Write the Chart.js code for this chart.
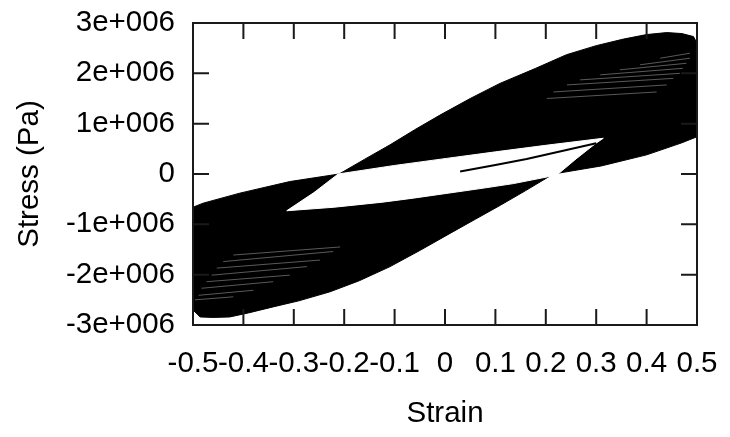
<!DOCTYPE html>
<html>
<head>
<meta charset="utf-8">
<script src="https://cdn.jsdelivr.net/npm/chart.js@4.4.1/dist/chart.umd.min.js"></script>
<style>
  body { margin: 0; background: #fff; }
</style>
</head>
<body>
<canvas id="hysteresisChart" width="730" height="437"></canvas>
<script>
// outline of the dark area made by all the loops (strain, stress in Pa)
const outerStrain = [-0.21, -0.16, -0.109, -0.06, -0.01, 0.05, 0.109, 0.18, 0.241, 0.30, 0.354, 0.40, 0.44, 0.47, 0.493, 0.50,
    0.50, 0.47, 0.40, 0.31, 0.215, 0.16, 0.11, 0.06, 0.01, -0.05, -0.109, -0.17, -0.228, -0.29, -0.341, -0.39, -0.427, -0.46, -0.486, -0.50,
    -0.50, -0.48, -0.407, -0.308, -0.21];
const outerStress = [0, 0.29e6, 0.58e6, 0.88e6, 1.17e6, 1.50e6, 1.80e6, 2.10e6, 2.37e6, 2.55e6, 2.68e6, 2.77e6, 2.81e6, 2.79e6, 2.73e6, 2.60e6,
    0.74e6, 0.62e6, 0.38e6, 0.16e6, 0, -0.33e6, -0.62e6, -0.90e6, -1.18e6, -1.52e6, -1.84e6, -2.12e6, -2.34e6, -2.52e6, -2.64e6, -2.76e6, -2.84e6, -2.85e6, -2.84e6, -2.70e6,
    -0.66e6, -0.58e6, -0.38e6, -0.15e6, 0];

// white gap in the middle
const holeStrain = [-0.212, -0.10, 0.003, 0.10, 0.20, 0.314, 0.298, 0.26, 0.222, 0.136, 0.077, -0.063, -0.124, -0.22, -0.314, -0.26, -0.212];
const holeStress = [0, 0.17e6, 0.31e6, 0.44e6, 0.57e6, 0.71e6, 0.60e6, 0.30e6, -0.02e6, -0.19e6, -0.28e6, -0.48e6, -0.56e6, -0.66e6, -0.73e6, -0.37e6, 0];

// first loading branch
const firstStrain = [0.03, 0.10, 0.162, 0.23, 0.30];
const firstStress = [0.05e6, 0.18e6, 0.30e6, 0.45e6, 0.61e6];

// light gaps between loops near the corners [x1, y1, x2, y2]
const streaksTop = [
    [0.427, 2.30e6, 0.486, 2.40e6], [0.387, 2.17e6, 0.486, 2.30e6], [0.347, 2.07e6, 0.479, 2.20e6], [0.308, 1.97e6, 0.472, 2.10e6],
    [0.268, 1.87e6, 0.466, 2.00e6], [0.242, 1.77e6, 0.453, 1.90e6], [0.215, 1.63e6, 0.440, 1.77e6], [0.202, 1.50e6, 0.420, 1.63e6]
];
const streaksBottom = [
    [-0.420, -1.61e6, -0.208, -1.45e6], [-0.440, -1.74e6, -0.222, -1.54e6], [-0.453, -1.87e6, -0.248, -1.71e6], [-0.463, -2.01e6, -0.274, -1.84e6],
    [-0.473, -2.14e6, -0.308, -2.01e6], [-0.483, -2.27e6, -0.341, -2.14e6], [-0.489, -2.41e6, -0.380, -2.31e6], [-0.496, -2.50e6, -0.420, -2.44e6]
];

const xTickLabels = ['-0.5', '-0.4', '-0.3', '-0.2', '-0.1', '0', '0.1', '0.2', '0.3', '0.4', '0.5'];
const yTickLabels = ['-3e+006', '-2e+006', '-1e+006', '0', '1e+006', '2e+006', '3e+006'];

const toPoints = (xs, ys) => xs.map((x, i) => ({x: x, y: ys[i]}));

const streakSets = streaksTop.concat(streaksBottom).map(s => ({
    data: [{x: s[0], y: s[1]}, {x: s[2], y: s[3]}],
    showLine: true,
    borderColor: 'rgba(255,255,255,0.35)',
    borderWidth: 1,
    pointRadius: 0,
    order: 1
}));

const fontFamily = "'Liberation Sans', Arial, sans-serif";

// frame with inward ticks on all four sides, like the original plot
const framePlugin = {
    id: 'frame',
    afterDatasetsDraw(chart) {
        const ctx = chart.ctx;
        const a = chart.chartArea;
        const xs = chart.scales.x;
        const ys = chart.scales.y;
        const len = 16;
        ctx.save();
        ctx.strokeStyle = '#1a1a1a';
        ctx.lineWidth = 2;
        ctx.beginPath();
        xs.ticks.forEach(t => {
            const px = xs.getPixelForValue(t.value);
            ctx.moveTo(px, a.bottom); ctx.lineTo(px, a.bottom - len);
            ctx.moveTo(px, a.top); ctx.lineTo(px, a.top + len);
        });
        ys.ticks.forEach(t => {
            const py = ys.getPixelForValue(t.value);
            ctx.moveTo(a.left, py); ctx.lineTo(a.left + len, py);
            ctx.moveTo(a.right, py); ctx.lineTo(a.right - len, py);
        });
        ctx.stroke();
        ctx.strokeRect(a.left, a.top, a.right - a.left, a.bottom - a.top);
        ctx.restore();
    }
};

// keep the plot box where the original has it
const noPadding = scale => {
    scale.paddingTop = 0;
    scale.paddingBottom = 0;
    scale.paddingLeft = 0;
    scale.paddingRight = 0;
};

const canvasElement = document.getElementById('hysteresisChart');
const hysteresisChart = new Chart(canvasElement, {
    type: 'scatter',
    data: {
        datasets: [{
            data: toPoints(firstStrain, firstStress),
            showLine: true,
            borderColor: '#000',
            borderWidth: 2,
            pointRadius: 0,
            order: 0
        }, {
            data: toPoints(holeStrain, holeStress),
            showLine: true,
            fill: 'shape',
            backgroundColor: '#fff',
            borderColor: '#fff',
            borderWidth: 1,
            pointRadius: 0,
            order: 2
        }, {
            data: toPoints(outerStrain, outerStress),
            showLine: true,
            fill: 'shape',
            backgroundColor: '#000',
            borderColor: '#000',
            borderWidth: 1,
            pointRadius: 0,
            order: 3
        }].concat(streakSets)
    },
    options: {
        responsive: false,
        animation: false,
        layout: {padding: {top: 23, right: 33, left: 0, bottom: 0}},
        plugins: {
            legend: {display: false},
            tooltip: {enabled: false}
        },
        scales: {
            x: {
                type: 'linear',
                min: -0.5,
                max: 0.5,
                grid: {display: false, drawTicks: false},
                border: {display: false},
                ticks: {
                    stepSize: 0.1,
                    padding: 21,
                    color: '#000',
                    maxRotation: 0,
                    autoSkip: false,
                    font: {family: fontFamily, size: 29.5},
                    callback: (value, index) => xTickLabels[index]
                },
                title: {
                    display: true,
                    text: 'Strain',
                    color: '#000',
                    font: {family: fontFamily, size: 29.5},
                    padding: {top: 0, bottom: 5}
                },
                afterFit: scale => { scale.height = 112; noPadding(scale); }
            },
            y: {
                type: 'linear',
                min: -3e6,
                max: 3e6,
                grid: {display: false, drawTicks: false},
                border: {display: false},
                ticks: {
                    stepSize: 1e6,
                    padding: 18,
                    color: '#000',
                    font: {family: fontFamily, size: 29.5},
                    callback: (value, index) => yTickLabels[index]
                },
                title: {
                    display: true,
                    text: 'Stress (Pa)',
                    color: '#000',
                    font: {family: fontFamily, size: 29.5},
                    padding: {top: 12, bottom: 0}
                },
                afterFit: scale => { scale.width = 193; noPadding(scale); }
            }
        }
    },
    plugins: [framePlugin]
});
</script>
</body>
</html>
